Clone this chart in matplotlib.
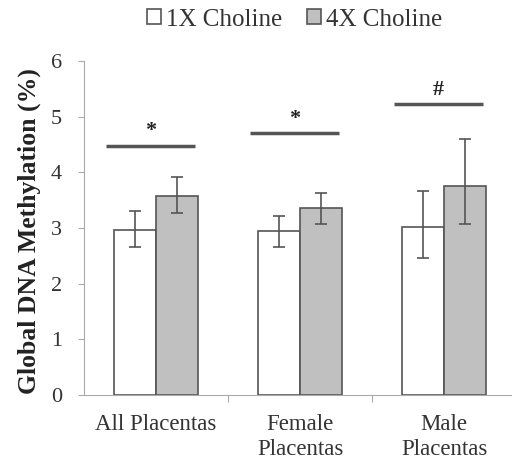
import matplotlib
matplotlib.use("Agg")
import matplotlib.pyplot as plt
import numpy as np

categories = ["All Placentas", "Female\nPlacentas", "Male\nPlacentas"]
series_names = ["1X Choline", "4X Choline"]
vals_1x = [2.97, 2.94, 3.02]
vals_4x = [3.58, 3.36, 3.76]
err_1x_upper = [3.30, 3.22, 3.66]
err_1x_lower = [2.65, 2.65, 2.46]
err_4x_upper = [3.92, 3.63, 4.60]
err_4x_lower = [3.27, 3.08, 3.08]
sig_levels = [4.48, 4.70, 5.22]
sig_marks = ["*", "*", "#"]
yticks = [0, 1, 2, 3, 4, 5, 6]

plt.rcParams['font.family'] = ['Liberation Serif', 'DejaVu Serif']

fig = plt.figure(figsize=(5.12, 4.66), dpi=100)
ax = fig.add_axes([84/512, 71/466, 432/512, 334/466])

x = np.arange(len(categories))
w = 0.29
edge = "#555555"
v1 = np.array(vals_1x); v4 = np.array(vals_4x)
e1 = [v1 - np.array(err_1x_lower), np.array(err_1x_upper) - v1]
e4 = [v4 - np.array(err_4x_lower), np.array(err_4x_upper) - v4]
ax.bar(x - w/2, v1, w, color="white", edgecolor=edge, linewidth=1.2, label=series_names[0])
ax.bar(x + w/2, v4, w, color="#c0c0c0", edgecolor=edge, linewidth=1.2, label=series_names[1])
ax.errorbar(x - w/2, v1, yerr=e1, fmt="none", ecolor=edge, elinewidth=1.2, capsize=4, capthick=1.2)
ax.errorbar(x + w/2, v4, yerr=e4, fmt="none", ecolor=edge, elinewidth=1.2, capsize=4, capthick=1.2)

for xi, lvl, m in zip(x, sig_levels, sig_marks):
    ax.plot([xi - 0.345, xi + 0.27], [lvl, lvl], color=edge, lw=2.5, solid_capstyle="butt")
    ax.text(xi - 0.04, lvl + 0.08, m, ha="center", va="bottom", fontsize=16, fontweight="bold", color="#222222")

ax.set_xlim(-0.5, 2.5)
ax.set_ylim(0, 6)
ax.set_yticks(yticks)
ax.set_yticklabels([str(t) for t in yticks], fontsize=16)
ax.set_xticks([0.5, 1.5])
ax.set_xticklabels([])
ax.set_xticks(x, minor=True)
ax.set_xticklabels(categories, minor=True, fontsize=16.5, color="#333333", linespacing=1.25)
ax.tick_params(axis="x", which="minor", length=0, pad=14)
ax.tick_params(axis="x", which="major", length=5, color="#aaaaaa", direction="out")
ax.tick_params(axis="y", length=4, pad=12, color="#aaaaaa", labelcolor="#333333")
for s in ["top", "right"]:
    ax.spines[s].set_visible(False)
for s in ["left", "bottom"]:
    ax.spines[s].set_color("#aaaaaa")
ax.set_ylabel("Global DNA Methylation (%)", fontsize=18.5, fontweight="bold", color="#222222")
ax.yaxis.set_label_coords(-0.10, 0.49)

fig.legend(loc="upper center", bbox_to_anchor=(0.575, 1.03), ncol=2, frameon=False,
           fontsize=18, handlelength=0.55, handleheight=0.55, handletextpad=0.2, columnspacing=1.0,
           labelcolor="#333333")

fig.savefig("out.png", dpi=100)
